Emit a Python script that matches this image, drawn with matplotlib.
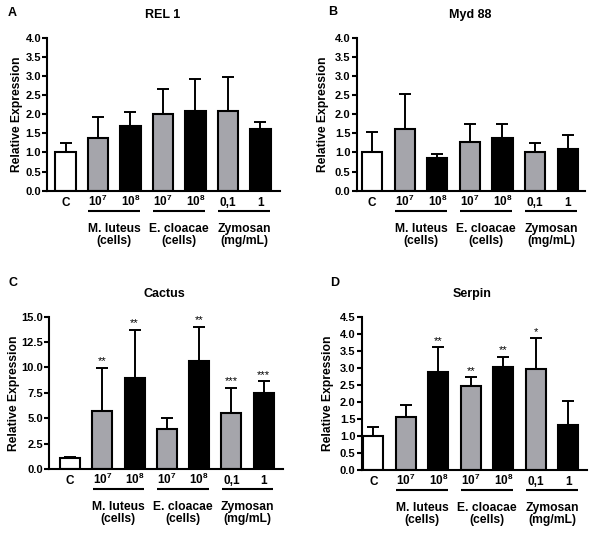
import numpy as np
import matplotlib
matplotlib.use('Agg')
import matplotlib.pyplot as plt
from matplotlib.ticker import MultipleLocator, FormatStrFormatter

plt.rcParams['font.family'] = ['Liberation Sans', 'DejaVu Sans']
plt.rcParams['font.weight'] = 'bold'
plt.rcParams['mathtext.fontset'] = 'custom'
plt.rcParams['mathtext.rm'] = 'Liberation Sans:bold'
plt.rcParams['mathtext.bf'] = 'Liberation Sans:bold'

# data
tick_labels = ['C', r'$\mathbf{10^{7}}$', r'$\mathbf{10^{8}}$', r'$\mathbf{10^{7}}$',
               r'$\mathbf{10^{8}}$', '0,1', '1']
groups = [('M. luteus\n(cells)', 1, 2), ('E. cloacae\n(cells)', 3, 4), ('Zymosan\n(mg/mL)', 5, 6)]

rel1_mean = [1.00, 1.37, 1.69, 2.00, 2.08, 2.08, 1.61]
rel1_sem = [0.25, 0.55, 0.36, 0.65, 0.83, 0.89, 0.19]

myd88_mean = [1.02, 1.61, 0.85, 1.28, 1.39, 1.00, 1.09]
myd88_sem = [0.52, 0.93, 0.10, 0.46, 0.35, 0.24, 0.37]

cactus_mean = [1.05, 5.74, 8.93, 3.90, 10.63, 5.48, 7.52]
cactus_sem = [0.15, 4.24, 4.77, 1.15, 3.37, 2.52, 1.14]
cactus_stars = ['', '**', '**', '', '**', '***', '***']

serpin_mean = [1.01, 1.57, 2.89, 2.47, 3.01, 2.97, 1.31]
serpin_sem = [0.24, 0.33, 0.71, 0.26, 0.32, 0.90, 0.73]
serpin_stars = ['', '', '**', '**', '**', '*', '']

bar_colors = ['white', '#a5a5ab', 'black', '#a5a5ab', 'black', '#a5a5ab', 'black']

W, H = 600, 535
fig = plt.figure(figsize=(6, 5.35), dpi=100)


def px_axes(l, r, t, b):
    return fig.add_axes([l / W, 1 - b / H, (r - l) / W, (b - t) / H])


def panel(box, xlim, mean, sem, ymax, ystep, title, letter, title_xy, letter_xy, ylab_x, stars=None):
    ax = px_axes(*box)
    x = np.arange(len(mean))
    mean = np.array(mean)
    sem = np.array(sem)
    ax.errorbar(x, mean, yerr=[np.zeros_like(sem), sem], fmt='none', ecolor='black',
                elinewidth=1.4, capsize=4.5, capthick=1.4, zorder=1)
    ax.bar(x, mean, width=0.62, color=bar_colors, edgecolor='black', linewidth=1.5, zorder=2)
    ax.set_xlim(*xlim)
    ax.set_ylim(0, ymax)
    ax.yaxis.set_major_locator(MultipleLocator(ystep))
    ax.yaxis.set_major_formatter(FormatStrFormatter('%.1f'))
    ax.tick_params(axis='y', length=3.5, width=1.5, labelsize=8, pad=1)
    ax.set_xticks([])
    for s in ['top', 'right']:
        ax.spines[s].set_visible(False)
    for s in ['left', 'bottom']:
        ax.spines[s].set_linewidth(1.5)
    for xi, lab in zip(x, tick_labels):
        ax.annotate(lab, xy=(xi, 0), xycoords=('data', 'axes fraction'), xytext=(0, -11),
                    textcoords='offset points', ha='center', va='baseline', fontsize=8.5)
    for name, a, b in groups:
        ax.plot([a - 0.3, b + 0.3], [-20 / 153] * 2, color='black', lw=1.5,
                transform=ax.get_xaxis_transform(), clip_on=False, solid_capstyle='butt')
        ax.annotate(name, xy=((a + b) / 2, 0), xycoords=('data', 'axes fraction'), xytext=(0, -23),
                    textcoords='offset points', ha='center', va='top', fontsize=8.7, linespacing=1.05)
    if stars:
        for xi, m, e, s in zip(x, mean, sem, stars):
            if s:
                ax.annotate(s, xy=(xi, m + e), xytext=(0, 1), textcoords='offset points',
                            ha='center', va='bottom', fontsize=8, fontweight='normal')
    fig.text(title_xy[0] / W, 1 - title_xy[1] / H, title, ha='center', va='center', fontsize=9)
    fig.text(letter_xy[0] / W, 1 - letter_xy[1] / H, letter, ha='center', va='center', fontsize=9)
    fig.text(ylab_x / W, 1 - (box[2] + box[3]) / 2 / H, 'Relative Expression', rotation=90,
             ha='center', va='center', fontsize=8.7)
    return ax


panel((47.3, 280, 37.7, 190.7), (-0.56, 6.6), rel1_mean, rel1_sem, 4.0, 0.5,
      'REL 1', 'A', (163, 15), (12.5, 13), 16.7)
panel((356.7, 585, 37.7, 190.7), (-0.47, 6.53), myd88_mean, myd88_sem, 4.0, 0.5,
      'Myd 88', 'B', (470, 15), (333, 12), 323.3)
panel((49.3, 283, 316.7, 469), (-0.64, 6.6), cactus_mean, cactus_sem, 15.0, 2.5,
      'Cactus', 'C', (164, 294), (13, 283), 14.5, cactus_stars)
panel((361.7, 586.7, 316.7, 470), (-0.36, 6.57), serpin_mean, serpin_sem, 4.5, 0.5,
      'Serpin', 'D', (472, 294), (335, 283), 328.3, serpin_stars)

plt.savefig('out.png', dpi=100)
